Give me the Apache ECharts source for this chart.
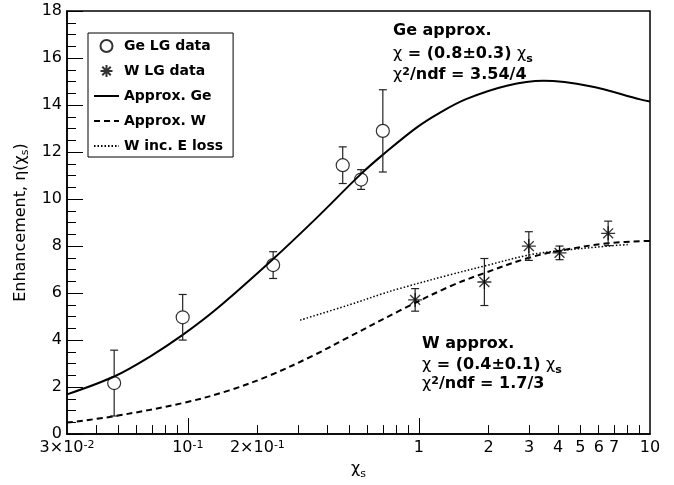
<!DOCTYPE html>
<html><head><meta charset="utf-8">
<script src="https://cdn.jsdelivr.net/npm/echarts@6/dist/echarts.min.js"></script>
<style>html,body{margin:0;padding:0;background:#fff}#c{width:674px;height:485px}</style>
</head><body><div id="c"></div>
<script>
// ---- data ----
const geX   = [0.048, 0.095, 0.234, 0.468, 0.562, 0.698];
const geY   = [2.17, 4.97, 7.19, 11.44, 10.83, 12.90];
const geErr = [1.40, 0.97, 0.57, 0.78, 0.42, 1.75];

const wX   = [0.963, 1.92, 2.99, 4.06, 6.59];
const wY   = [5.71, 6.47, 8.00, 7.71, 8.54];
const wErr = [0.48, 1.00, 0.61, 0.29, 0.52];

const geFitX = [0.03, 0.048, 0.0686, 0.095, 0.133, 0.234, 0.361, 0.562, 0.701, 0.98, 1.235, 1.6, 2.40, 3.46, 5.51, 9.07, 10];
const geFitY = [1.69, 2.45, 3.30, 4.22, 5.32, 7.45, 9.20, 11.07, 11.90, 13.05, 13.68, 14.25, 14.82, 15.03, 14.80, 14.24, 14.15];

const wFitX = [0.03, 0.048, 0.095, 0.15, 0.227, 0.35, 0.48, 0.829, 1.365, 1.92, 2.99, 4.06, 6.59, 10];
const wFitY = [0.49, 0.76, 1.32, 1.85, 2.50, 3.35, 4.05, 5.26, 6.29, 6.85, 7.50, 7.80, 8.12, 8.22];

const wLossX = [0.306, 0.5, 0.70, 0.829, 1.365, 1.92, 2.99, 4.06, 6.59, 8.2];
const wLossY = [4.85, 5.50, 5.98, 6.20, 6.78, 7.15, 7.62, 7.80, 8.00, 8.07];

const xLabelValues = [0.03, 0.1, 0.2, 1, 2, 3, 4, 5, 6, 7, 10];
const xLabelTexts  = ['{n|3×10}{p|-2}', '{n|10}{p|-1}', '{n|2×10}{p|-1}', '{n|1}', '{n|2}', '{n|3}', '{n|4}', '{n|5}', '{n|6}', '{n|7}', '{n|10}'];
const xMajorTicks = [0.1, 1];
const xMinorTicks = [0.04, 0.05, 0.06, 0.07, 0.08, 0.09, 0.2, 0.3, 0.4, 0.5, 0.6, 0.7, 0.8, 0.9, 2, 3, 4, 5, 6, 7, 8, 9];
const yMin = 0, yMax = 18, yStep = 2;

const legendNames = ['Ge LG data', 'W LG data', 'Approx. Ge', 'Approx. W', 'W inc. E loss'];

// ---- chart ----
const FF = '"DejaVu Sans", sans-serif';
const ASTER = 'path://M0,-10L0,10M-10,0L10,0M-7.07,-7.07L7.07,7.07M-7.07,7.07L7.07,-7.07';
const pairs = (xs, ys) => xs.map((x, i) => [x, ys[i]]);
const triples = (xs, ys, es) => xs.map((x, i) => [x, ys[i], es[i]]);

function errRender(gap) {
  return function (params, api) {
    const x = api.value(0), y = api.value(1), e = api.value(2);
    const c = api.coord([x, y]);
    const t = api.coord([x, y + e]);
    const b = api.coord([x, y - e]);
    const cap = 4;
    const st = { stroke: '#222', lineWidth: 1.2 };
    const ch = [];
    if (c[1] - gap > t[1]) ch.push({ type: 'line', shape: { x1: c[0], y1: t[1], x2: c[0], y2: c[1] - gap }, style: st });
    if (c[1] + gap < b[1]) ch.push({ type: 'line', shape: { x1: c[0], y1: c[1] + gap, x2: c[0], y2: b[1] }, style: st });
    ch.push({ type: 'line', shape: { x1: c[0] - cap, y1: t[1], x2: c[0] + cap, y2: t[1] }, style: st });
    ch.push({ type: 'line', shape: { x1: c[0] - cap, y1: b[1], x2: c[0] + cap, y2: b[1] }, style: st });
    return { type: 'group', children: ch };
  };
}

function findLabel(v) {
  for (let k = 0; k < xLabelValues.length; k++) {
    if (Math.abs(v - xLabelValues[k]) / xLabelValues[k] < 1e-6) return xLabelTexts[k];
  }
  return '';
}

const subRich = {
  c: { fontFamily: FF, fontSize: 16, color: '#000', lineHeight: 18, verticalAlign: 'top' },
  s: { fontFamily: FF, fontSize: 11, color: '#000', verticalAlign: 'top', padding: [8, 0, 0, 0] }
};
const boldRich = {
  c: { fontFamily: FF, fontSize: 16, color: '#000', lineHeight: 18, verticalAlign: 'top' },
  b: { fontFamily: FF, fontSize: 16, fontWeight: 'bold', color: '#000', lineHeight: 18, verticalAlign: 'top' },
  s: { fontFamily: FF, fontSize: 11, fontWeight: 'bold', color: '#000', verticalAlign: 'top', padding: [8, 0, 0, 0] },
  p: { fontFamily: FF, fontSize: 11, fontWeight: 'bold', color: '#000', verticalAlign: 'top', lineHeight: 11 }
};

const hiddenSym = { opacity: 0 };

const chart = echarts.init(document.getElementById('c'), null, { renderer: 'canvas' });
const option = {
  animation: false,
  backgroundColor: '#fff',
  grid: { left: 67, right: 24, top: 11, bottom: 40, show: true, borderColor: '#000', borderWidth: 1.5, backgroundColor: 'transparent' },
  legend: {
    orient: 'vertical', left: 88, top: 33,
    itemWidth: 25, itemHeight: 12, itemGap: 9,
    padding: [5, 10, 3, 5],
    borderColor: '#000', borderWidth: 1, backgroundColor: '#fff',
    textStyle: { fontFamily: FF, fontWeight: 'bold', fontSize: 14, lineHeight: 16, color: '#000' },
    data: [
      { name: legendNames[0] },
      { name: legendNames[1] },
      { name: legendNames[2], itemStyle: hiddenSym },
      { name: legendNames[3], itemStyle: hiddenSym },
      { name: legendNames[4], itemStyle: hiddenSym }
    ]
  },
  xAxis: [
    {
      type: 'log', logBase: 10, min: 0.03, max: 10,
      name: '{c|χ}{s|s}', nameLocation: 'middle', nameGap: 20,
      nameTextStyle: { rich: subRich },
      axisLine: { show: true, lineStyle: { color: '#000', width: 1.5 } },
      axisTick: { show: true, inside: true, length: 16, customValues: xMajorTicks, lineStyle: { color: '#000', width: 1 } },
      axisLabel: {
        show: true, margin: 6, customValues: xLabelValues, formatter: findLabel,
        rich: {
          n: { fontFamily: FF, fontSize: 16, color: '#000', lineHeight: 18, verticalAlign: 'top' },
          p: { fontFamily: FF, fontSize: 11, color: '#000', lineHeight: 11, verticalAlign: 'top' }
        }
      },
      splitLine: { show: false }, minorSplitLine: { show: false }
    },
    {
      type: 'log', logBase: 10, min: 0.03, max: 10, position: 'bottom',
      axisLine: { show: false },
      axisTick: { show: true, inside: true, length: 9, customValues: xMinorTicks, lineStyle: { color: '#000', width: 1 } },
      axisLabel: { show: false },
      splitLine: { show: false }
    }
  ],
  yAxis: {
    type: 'value', min: yMin, max: yMax, interval: yStep,
    name: 'Enhancement, η(χ{s|s})', nameLocation: 'middle', nameGap: 17, nameRotate: 90,
    nameTextStyle: { fontFamily: FF, fontSize: 16, color: '#000', rich: { s: { fontFamily: FF, fontSize: 11, color: '#000', verticalAlign: 'top', padding: [8, 0, 0, 0] } } },
    axisLine: { show: true, lineStyle: { color: '#000', width: 1.5 } },
    axisTick: { show: true, inside: true, length: 16, lineStyle: { color: '#000', width: 1 } },
    minorTick: { show: true, splitNumber: 4, length: 9, lineStyle: { color: '#000', width: 1 } },
    axisLabel: { fontFamily: FF, fontSize: 16, color: '#000', margin: 5 },
    splitLine: { show: false }
  },
  series: [
    { name: 'geErr', type: 'custom', xAxisIndex: 0, renderItem: errRender(6.5), data: triples(geX, geY, geErr), z: 3, silent: true },
    { name: 'wErr', type: 'custom', xAxisIndex: 0, renderItem: errRender(0), data: triples(wX, wY, wErr), z: 3, silent: true },
    { name: 'Approx. Ge', type: 'line', xAxisIndex: 0, data: pairs(geFitX, geFitY), smooth: 0.35, symbol: 'none', showSymbol: false,
      lineStyle: { color: '#000', width: 2, type: 'solid' }, itemStyle: { color: '#000', opacity: 0 }, z: 2 },
    { name: 'Approx. W', type: 'line', xAxisIndex: 0, data: pairs(wFitX, wFitY), smooth: 0.35, symbol: 'none', showSymbol: false,
      lineStyle: { color: '#000', width: 2, type: [6, 4] }, itemStyle: { color: '#000', opacity: 0 }, z: 2 },
    { name: 'W inc. E loss', type: 'line', xAxisIndex: 0, data: pairs(wLossX, wLossY), smooth: 0.35, symbol: 'none', showSymbol: false,
      lineStyle: { color: '#000', width: 1.5, type: [1.5, 2] }, itemStyle: { color: '#000', opacity: 0 }, z: 2 },
    { name: 'Ge LG data', type: 'scatter', xAxisIndex: 0, data: pairs(geX, geY), symbol: 'circle', symbolSize: 13,
      itemStyle: { color: 'rgba(255,255,255,0)', borderColor: '#000', borderWidth: 1.2 }, z: 4 },
    { name: 'W LG data', type: 'scatter', xAxisIndex: 0, data: pairs(wX, wY), symbol: ASTER, symbolSize: 14,
      itemStyle: { color: '#000', borderColor: '#000', borderWidth: 1.3 }, z: 4 }
  ],
  graphic: [
    { type: 'text', x: 393, y: 31, style: { text: 'Ge approx.', font: 'bold 16px ' + FF, fill: '#000', verticalAlign: 'middle' } },
    { type: 'text', x: 393, y: 55, style: { text: '{c|χ}{b| = (0.8±0.3) }{c|χ}{s|s}', rich: boldRich, verticalAlign: 'middle' } },
    { type: 'text', x: 393, y: 76, style: { text: '{c|χ}{p|2}{b|/ndf = 3.54/4}', rich: boldRich, verticalAlign: 'middle' } },
    { type: 'text', x: 422, y: 344, style: { text: 'W approx.', font: 'bold 16px ' + FF, fill: '#000', verticalAlign: 'middle' } },
    { type: 'text', x: 422, y: 366.5, style: { text: '{c|χ}{b| = (0.4±0.1) }{c|χ}{s|s}', rich: boldRich, verticalAlign: 'middle' } },
    { type: 'text', x: 422, y: 385, style: { text: '{c|χ}{p|2}{b|/ndf = 1.7/3}', rich: boldRich, verticalAlign: 'middle' } }
  ]
};
chart.setOption(option);
</script>
</body></html>
